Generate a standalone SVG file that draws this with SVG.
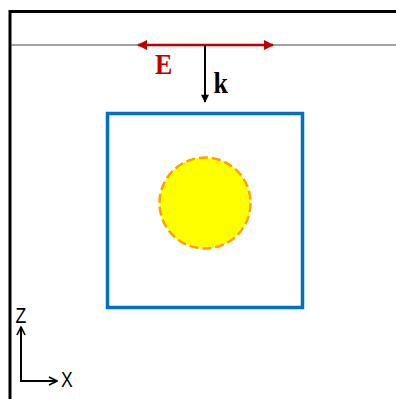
<svg xmlns="http://www.w3.org/2000/svg" width="396" height="399" viewBox="0 0 396 399">
<defs>
<style>
.lbl{font-family:"Liberation Serif",serif;font-weight:bold;font-size:26px}
.ax{font-family:"Liberation Sans",sans-serif;font-size:22px;fill:#000}
</style>
<marker id="ar" viewBox="0 0 10 10" refX="9" refY="5" markerWidth="4.4" markerHeight="4" orient="auto-start-reverse"><path d="M0,0L10,5L0,10z" fill="#C00000"/></marker>
<marker id="ak" viewBox="0 0 10 10" refX="9" refY="5" markerWidth="4.5" markerHeight="4" orient="auto"><path d="M0,0L10,5L0,10z" fill="#000"/></marker>
<marker id="ax" viewBox="0 0 10 10" refX="8" refY="5" markerWidth="5" markerHeight="5" orient="auto"><path d="M1,1L9,5L1,9" fill="none" stroke="#000" stroke-width="1.6"/></marker>
</defs>
<rect width="396" height="399" fill="#fff"/>
<g id="frame">
<path d="M10,399V11.5H396" fill="none" stroke="#000" stroke-width="3"/>
<line x1="11" y1="45" x2="396" y2="45" stroke="#444" stroke-width="1"/>
</g>
<g id="connectors">
<line x1="138" y1="45" x2="273" y2="45" stroke="#C00000" stroke-width="2.5" marker-start="url(#ar)" marker-end="url(#ar)"/>
<line x1="205" y1="45" x2="205" y2="102" stroke="#000" stroke-width="2" marker-end="url(#ak)"/>
<line x1="21" y1="381" x2="21" y2="328" stroke="#000" stroke-width="2" marker-end="url(#ax)"/>
<line x1="20" y1="381" x2="56" y2="381" stroke="#000" stroke-width="2" marker-end="url(#ax)"/>
</g>
<g id="E"><text class="lbl" fill="#C00000" transform="translate(155,74.3) scale(1,1.12)">E</text></g>
<g id="k"><text class="lbl" fill="#000" transform="translate(213.5,93.3) scale(1,1.12)">k</text></g>
<g id="box"><rect x="107.5" y="113.5" width="195" height="194" fill="none" stroke="#0070C0" stroke-width="3.5"/></g>
<g id="sphere"><circle cx="205" cy="203" r="45.5" fill="#FFFF00" stroke="#FFA000" stroke-width="2.5" stroke-dasharray="9,4"/></g>
<g id="axisZ"><text class="ax" transform="translate(15.5,322.7) scale(0.8,1)">Z</text></g>
<g id="axisX"><text class="ax" transform="translate(61,387.3) scale(0.8,1)">X</text></g>
</svg>
